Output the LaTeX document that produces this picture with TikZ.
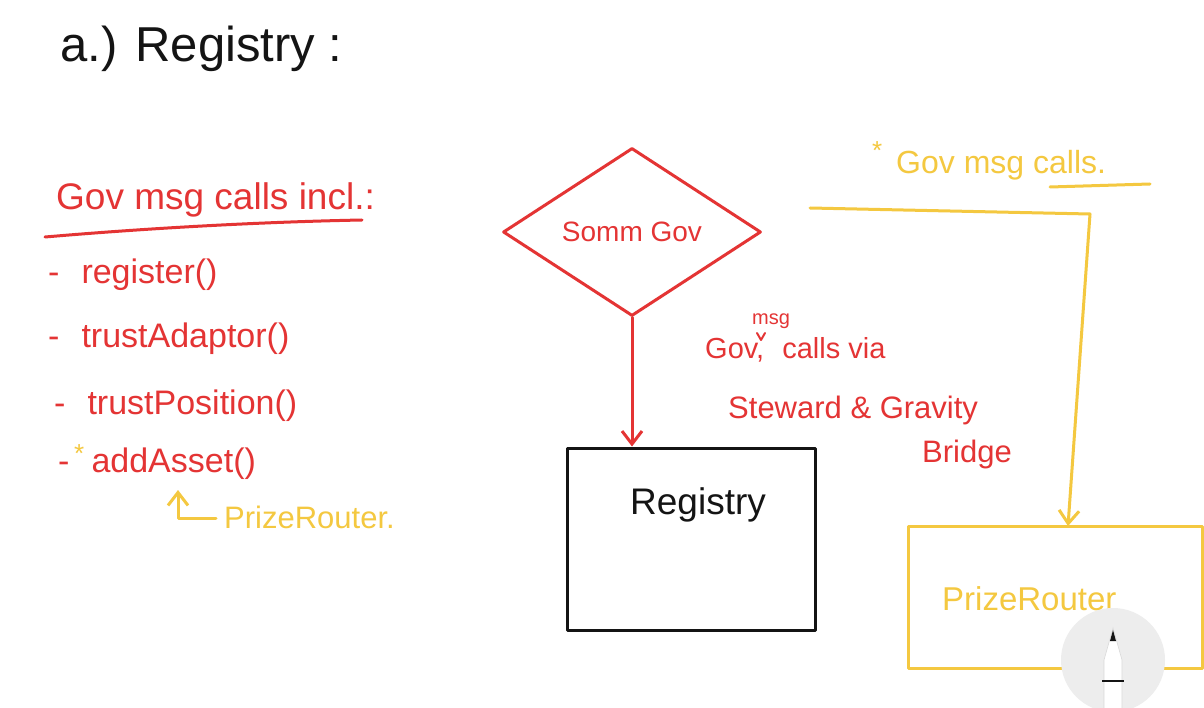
\documentclass[tikz,border=0pt]{standalone}
\usepackage{fontspec}
\setmainfont{Liberation Sans}
\usetikzlibrary{shapes.geometric,arrows.meta}
\definecolor{penred}{RGB}{228,52,52}
\definecolor{penyellow}{RGB}{244,200,64}
\definecolor{penblack}{RGB}{20,20,20}
\tikzset{
  stroke/.style={line width=3pt, line cap=round, line join=round},
  redtext/.style={text=penred, inner sep=0pt, anchor=base west},
  yeltext/.style={text=penyellow, inner sep=0pt, anchor=base west},
  blktext/.style={text=penblack, inner sep=0pt, anchor=base west},
  tip/.style={-{Straight Barb[length=13pt,width=20pt,line width=3pt]}},
  listitem/.style={redtext, font=\fontsize{34}{36}\selectfont},
}
\begin{document}
\begin{tikzpicture}[x=1pt,y=-1pt]
\useasboundingbox (0,0) rectangle (1204,708);
\fill[white] (0,0) rectangle (1204,708);

% title
\node[blktext, font=\fontsize{49}{52}\selectfont] (title) at (60,62) {a.) Registry :};

% left list
\node[redtext, font=\fontsize{37}{40}\selectfont] (govhead) at (56,210) {Gov msg calls incl.:};
\draw[stroke, penred] (45,237) .. controls (150,228) and (260,222) .. (362,220);
\node[listitem] (l1) at (48,284) {-\hspace{22pt}register()};
\node[listitem] (l2) at (48,348) {-\hspace{22pt}trustAdaptor()};
\node[listitem] (l3) at (54,414) {-\hspace{22pt}trustPosition()};
\node[listitem] (l4) at (58,472) {-\hspace{22pt}addAsset()};
\node[yeltext, font=\fontsize{26}{28}\selectfont] (star1) at (74,462) {*};
\node[yeltext, font=\fontsize{31}{33}\selectfont] (prl) at (224,528) {PrizeRouter.};
\coordinate (upend) at (178,490);
\draw[stroke, penyellow, tip] ([xshift=-8pt,yshift=-2pt]prl.west) -| (upend);

% Somm Gov diamond
\node[diamond, draw=penred, stroke, minimum width=258pt, minimum height=168pt,
      inner sep=0pt, text=penred, font=\fontsize{28}{30}\selectfont] (somm) at (632,232) {Somm Gov};

% Registry box
\node[draw=penblack, stroke, minimum width=248pt, minimum height=182pt] (reg) at (691,539) {};
\node[blktext, font=\fontsize{37}{40}\selectfont] (regtxt) at (630,514) {Registry};

\draw[stroke, penred, tip] (somm.south) -- (somm.south |- reg.north);

% red label
\node[redtext, font=\fontsize{29}{30}\selectfont] (lab1) at (705,358) {Gov, \hspace{10pt}calls via};
\node[redtext, font=\fontsize{20}{22}\selectfont] (labmsg) at (752,325) {msg};
\draw[stroke, penred, line width=2pt] (757,333) -- (761,340) -- (765,333);
\node[redtext, font=\fontsize{31}{33}\selectfont] (lab2) at (728,418) {Steward \& Gravity};
\node[redtext, font=\fontsize{31}{33}\selectfont] (lab3) at (922,462) {Bridge};

% yellow top-right
\node[yeltext, font=\fontsize{26}{28}\selectfont] (star2) at (872,160) {*};
\node[yeltext, font=\fontsize{32}{34}\selectfont] (govcalls) at (896,174) {Gov msg calls.};
\draw[stroke, penyellow] (1050,187) -- (1150,184);

% PrizeRouter box
\node[draw=penyellow, stroke, minimum width=294pt, minimum height=142pt] (prize) at (1055,597) {};
\node[yeltext, font=\fontsize{33}{35}\selectfont] (przt) at (942,610) {PrizeRouter};

\coordinate (ystart) at (810,208);
\draw[stroke, penyellow, tip] (ystart) -- (1090,214) -- (1068,526);

% pencil overlay
\fill[black!7] (1113,660) circle (52);
\fill[white] (1104,708) -- (1104,660) -- (1113,628) -- (1122,660) -- (1122,708) -- cycle;
\draw[black!15, line width=0.6pt] (1104,708) -- (1104,660) -- (1113,628) -- (1122,660) -- (1122,708);
\fill[penblack] (1110,641) -- (1113,630) -- (1116,641) -- cycle;
\draw[penblack, line width=2.5pt] (1102,681) -- (1124,681);
\end{tikzpicture}
\end{document}
